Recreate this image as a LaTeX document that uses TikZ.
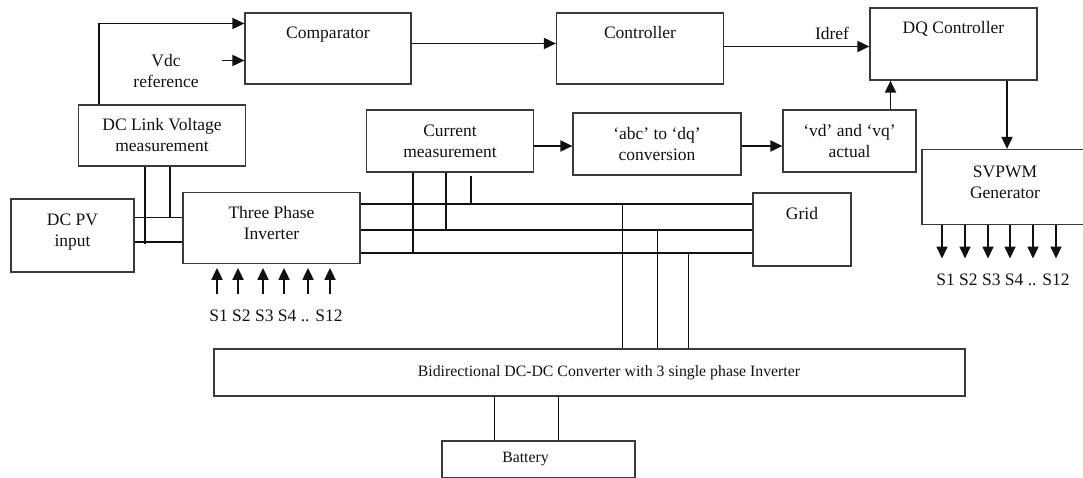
\documentclass[tikz,border=0pt]{standalone}
\usepackage{fontspec}
\setmainfont{Liberation Serif}
\usetikzlibrary{arrows.meta,positioning,calc}
\definecolor{bdInk}{HTML}{111111}
\definecolor{bdFrame}{HTML}{3A3A3A}
\newcommand{\dpadj}{\rule[-10pt]{0pt}{1pt}}
\tikzset{
  blk/.style={draw=bdFrame, line width=1.2pt, inner sep=2pt, align=center, font=\fontsize{17.5}{21}\selectfont, text=bdInk},
  blkT/.style={blk, text height=10pt, text depth=30pt},
  blkS/.style={blk, font=\fontsize{15.8}{18}\selectfont},
  lbl/.style={font=\fontsize{17.5}{21}\selectfont, align=center, text=bdInk, inner sep=1pt},
  arr/.style={-{Triangle[length=12pt,width=11pt]}, line width=1.8pt, draw=bdInk},
  wire/.style={line width=1.8pt, draw=bdInk},
}
\begin{document}
\begin{tikzpicture}[x=1pt,y=-1pt]
  \useasboundingbox (0,0) rectangle (1083,478);
  % control chain
  \node[blkT, minimum width=166pt, minimum height=71pt] (cmp) at (328,48.5) {Comparator};
  \node[blkT, minimum width=167pt, minimum height=71pt] (ctrl) at (640,48.5) {Controller};
  \node[blkT, minimum width=167pt, minimum height=72pt] (dqc) at (953.5,44) {DQ Controller};
  % measurement blocks
  \node[blk, minimum width=167pt, minimum height=61pt] (dclink) at (162,135.5) {DC Link Voltage\\measurement};
  \node[blk, minimum width=167pt, minimum height=62pt] (curm) at (450,141) {Current\\measurement};
  \node[blk, minimum width=168pt, minimum height=62pt] (abcdq) at (657,144) {`abc' to `dq'\\conversion};
  \node[blk, minimum width=133pt, minimum height=62pt] (vdvq) at (849.5,141) {`vd' and `vq'\\actual};
  \node[blk, minimum width=166pt, minimum height=75pt] (svpwm) at (1005,187) {SVPWM\\Generator\dpadj};
  % power stage
  \node[blk, minimum width=123pt, minimum height=73pt] (pv) at (72.5,235.5) {DC PV\\input\dpadj};
  \node[blk, minimum width=177pt, minimum height=71pt] (inv) at (271.5,227.8) {Three Phase\\Inverter\dpadj};
  \node[blkT, minimum width=98pt, minimum height=73pt] (grid) at (802,229.5) {Grid};
  \node[blkS, minimum width=751pt, minimum height=47pt] (bidir) at (589.5,372.5) {\hspace*{39pt}Bidirectional DC-DC Converter with 3 single phase Inverter};
  \node[blkS, minimum width=193pt, minimum height=37pt] (batt) at (538.5,459.5) {Battery\hspace*{26pt}};
  % labels
  \node[lbl] (vdcref) at (166,71) {Vdc\\reference};
  \node[lbl] (idref) at (832,33) {Idref};
  \node[lbl] (sinv) at (276,316) {S1 S2 S3 S4 .. S12};
  \node[lbl] (sgen) at (1003,279.5) {S1 S2 S3 S4 .. S12};
  % signal arrows
  \draw[arr] ([xshift=-63pt]dclink.north) |- ([yshift=25pt]cmp.west);
  \coordinate (vdcin) at (222,60.5);
  \draw[arr] (vdcin) -- (vdcin -| cmp.west);
  \draw[arr] ([yshift=5pt]cmp.east) -- ([yshift=5pt]cmp.east -| ctrl.west);
  \draw[arr] ([yshift=2pt]ctrl.east) -- ([yshift=2pt]ctrl.east -| dqc.west);
  \draw[arr] ([yshift=-5pt]curm.east) -- ([yshift=-5pt]curm.east -| abcdq.west);
  \draw[arr] ([yshift=-2pt]abcdq.east) -- ([yshift=-2pt]abcdq.east -| vdvq.west);
  \draw[arr] ([xshift=41pt]vdvq.north) -- ([xshift=41pt]vdvq.north |- dqc.south);
  \draw[arr] ([xshift=53.5pt]dqc.south) -- ([xshift=53.5pt]dqc.south |- svpwm.north);
  % gate signals
  \foreach \i/\x in {1/217,2/238,3/263,4/284,5/308,6/330} {
    \coordinate (g\i) at (\x,294);
    \draw[arr] (g\i) -- ([yshift=-4pt]g\i |- inv.south);
  }
  \foreach \i/\x in {1/942,2/965,3/988,4/1010,5/1033,6/1056} {
    \coordinate (o\i) at (\x,258.5);
    \draw[arr] (o\i |- svpwm.south) -- (o\i);
  }
  % dc side
  \coordinate (pvhi) at ([yshift=18pt]pv.east);
  \coordinate (pvlo) at ([yshift=-6.5pt]pv.east);
  \draw[wire] (pvhi) -- (pvhi -| inv.west);
  \draw[wire] (pvlo) -- (pvlo -| inv.west);
  \draw[wire] ([xshift=-17pt]dclink.south) -- ([xshift=-17pt,yshift=-2pt]dclink.south |- pvlo);
  \draw[wire] ([xshift=8pt]dclink.south) -- ([xshift=8pt]dclink.south |- pvhi);
  % ac side
  \coordinate (phA) at ([yshift=24pt]inv.east);
  \coordinate (phB) at ([yshift=-2pt]inv.east);
  \coordinate (phC) at ([yshift=-25pt]inv.east);
  \foreach \p in {phA,phB,phC} \draw[wire] (\p) -- (\p -| grid.west);
  \draw[wire] ([xshift=-37pt]curm.south) -- ([xshift=-37pt]curm.south |- phC);
  \draw[wire] ([xshift=-4pt]curm.south) -- ([xshift=-4pt]curm.south |- phB);
  \draw[wire] ([xshift=21pt,yshift=-3pt]curm.south) -- ([xshift=21pt]curm.south |- phA);
  \foreach \dx/\p in {33/phA,68/phB,99/phC}
    \draw[wire] ([xshift=\dx pt]bidir.north) -- ([xshift=\dx pt]bidir.north |- \p);
  % battery
  \foreach \dx in {-44,20}
    \draw[wire] ([xshift=\dx pt]batt.north) -- ([xshift=\dx pt]batt.north |- bidir.south);
\end{tikzpicture}
\end{document}
